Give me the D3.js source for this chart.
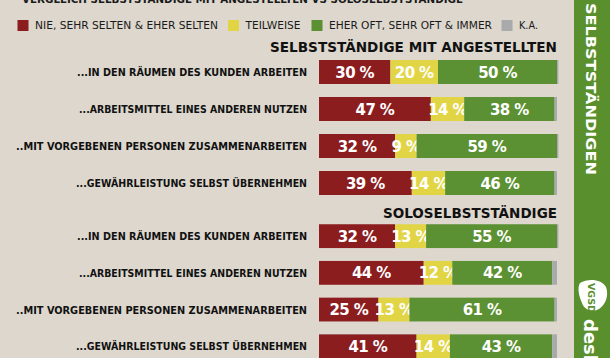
<!DOCTYPE html>
<html><head><meta charset="utf-8">
<script src="https://cdn.jsdelivr.net/npm/d3@7"></script>
<style>
html,body{margin:0;padding:0;background:#ddd7cd;}
svg{display:block;}
text{font-family:"DejaVu Sans",sans-serif;}
</style></head>
<body>
<script>
const title = "VERGLEICH SELBSTSTÄNDIGE MIT ANGESTELLTEN VS SOLOSELBSTSTÄNDIGE";
const seriesNames = ["NIE, SEHR SELTEN & EHER SELTEN", "TEILWEISE", "EHER OFT, SEHR OFT & IMMER", "K.A."];
const seriesKeys = ["selten", "teilweise", "oft", "ka"];
const categories = ["...IN DEN RÄUMEN DES KUNDEN ARBEITEN", "...ARBEITSMITTEL EINES ANDEREN NUTZEN", "..MIT VORGEBENEN PERSONEN ZUSAMMENARBEITEN", "...GEWÄHRLEISTUNG SELBST ÜBERNEHMEN"];
const groupNames = ["SELBSTSTÄNDIGE MIT ANGESTELLTEN", "SOLOSELBSTSTÄNDIGE"];
// values per group, per category
const mitAngestellten_selten = [30, 47, 32, 39];
const mitAngestellten_teilweise = [20, 14, 9, 14];
const mitAngestellten_oft = [50, 38, 59, 46];
const mitAngestellten_ka = [0.6, 1, 0.6, 1];
const solo_selten = [32, 44, 25, 41];
const solo_teilweise = [13, 12, 13, 14];
const solo_oft = [55, 42, 61, 43];
const solo_ka = [0.6, 2, 1, 2];
const sideTitle = "SELBSTSTÄNDIGEN";

const colors = ["#8b1d1f", "#e2d545", "#5b9132", "#a9aaac"];
const W = 610, H = 358;

const svg = d3.select("body").append("svg").attr("width", W).attr("height", H);
svg.append("rect").attr("width", W).attr("height", H).attr("fill", "#ddd7cd");

function fit(t, w) {
  t.attr("textLength", w).attr("lengthAdjust", "spacingAndGlyphs");
  return t;
}

// top title (mostly cut off)
fit(svg.append("text").attr("x", 22).attr("y", 2.5).attr("font-size", 11).attr("font-weight", 700)
  .attr("fill", "#1a1a1a").text(title), 441);

// legend
const legendX = [17.5, 228, 311.5, 501.5];
const legendTW = [183, 55, 163, 19];
seriesNames.forEach((n, i) => {
  svg.append("rect").attr("x", legendX[i]).attr("y", 20).attr("width", 11).attr("height", 11).attr("fill", colors[i]);
  const t = svg.append("text").attr("x", legendX[i] + 17.5).attr("y", 29).attr("font-size", 9.6)
    .attr("fill", "#1a1a1a").text(n);
  fit(t, legendTW[i]);
});

const x = d3.scaleLinear().domain([0, 100]).range([319, 557]);

const groups = [
  {name: groupNames[0], titleY: 52, titleW: 287, y0: 53.5, y1: 201.5,
   data: categories.map((c, i) => ({cat: c, selten: mitAngestellten_selten[i], teilweise: mitAngestellten_teilweise[i], oft: mitAngestellten_oft[i], ka: mitAngestellten_ka[i]}))},
  {name: groupNames[1], titleY: 218, titleW: 174, y0: 217.8, y1: 364.6,
   data: categories.map((c, i) => ({cat: c, selten: solo_selten[i], teilweise: solo_teilweise[i], oft: solo_oft[i], ka: solo_ka[i]}))}
];

const stack = d3.stack().keys(seriesKeys);

groups.forEach(g => {
  const y = d3.scaleBand().domain(categories).range([g.y0, g.y1]).paddingInner(13/37).paddingOuter(13/74);
  fit(svg.append("text").attr("x", 557).attr("y", g.titleY).attr("text-anchor", "end")
    .attr("font-size", 14.5).attr("font-weight", 700).attr("fill", "#111").text(g.name), g.titleW);

  const series = stack(g.data);
  series.forEach((s, si) => {
    svg.append("g").selectAll("rect").data(s).join("rect")
      .attr("x", d => x(d[0])).attr("width", d => x(d[1]) - x(d[0]))
      .attr("y", d => y(d.data.cat)).attr("height", y.bandwidth())
      .attr("fill", colors[si]);
    if (si < 3) {
      svg.append("g").selectAll("text").data(s).join("text")
        .attr("x", d => (x(d[0]) + x(d[1])) / 2)
        .attr("y", d => y(d.data.cat) + y.bandwidth() / 2 + 5.5)
        .attr("text-anchor", "middle").attr("font-size", 15).attr("font-weight", 700)
        .attr("fill", "#fff").attr("letter-spacing", -0.6)
        .text(d => (d[1] - d[0]) + " %");
    }
  });

  const labelW = [230, 228, 291, 231];
  categories.forEach((c, i) => {
    const t = svg.append("text").attr("x", 307).attr("y", y(c) + y.bandwidth() / 2 + 4)
      .attr("text-anchor", "end").attr("font-size", 10.6).attr("font-weight", 700).attr("fill", "#111").text(c);
    fit(t, labelW[i]);
  });
});

// right side panel
svg.append("rect").attr("x", 574).attr("y", 0).attr("width", 36).attr("height", H).attr("fill", "#5a8f2e");
const st = svg.append("text").attr("transform", "translate(585.5,3) rotate(90)")
  .attr("font-size", 14).attr("font-weight", 700).attr("fill", "#fff").text(sideTitle);
fit(st, 172);
// logo
svg.append("path")
  .attr("d", "M580,283 C588,278 602,279 606,287 C609,295 606,306 597,310 C590,312 584,309 582,303 C579,296 577,288 580,283 Z")
  .attr("fill", "#fff");
svg.append("text").attr("transform", "translate(588,283) rotate(90)")
  .attr("font-size", 9.5).attr("font-weight", 700).attr("fill", "#5a8f2e").text("VGSD");
svg.append("text").attr("transform", "translate(584,319) rotate(90)")
  .attr("font-size", 18).attr("font-weight", 700).attr("fill", "#fff").text("desk");
</script>
</body></html>
